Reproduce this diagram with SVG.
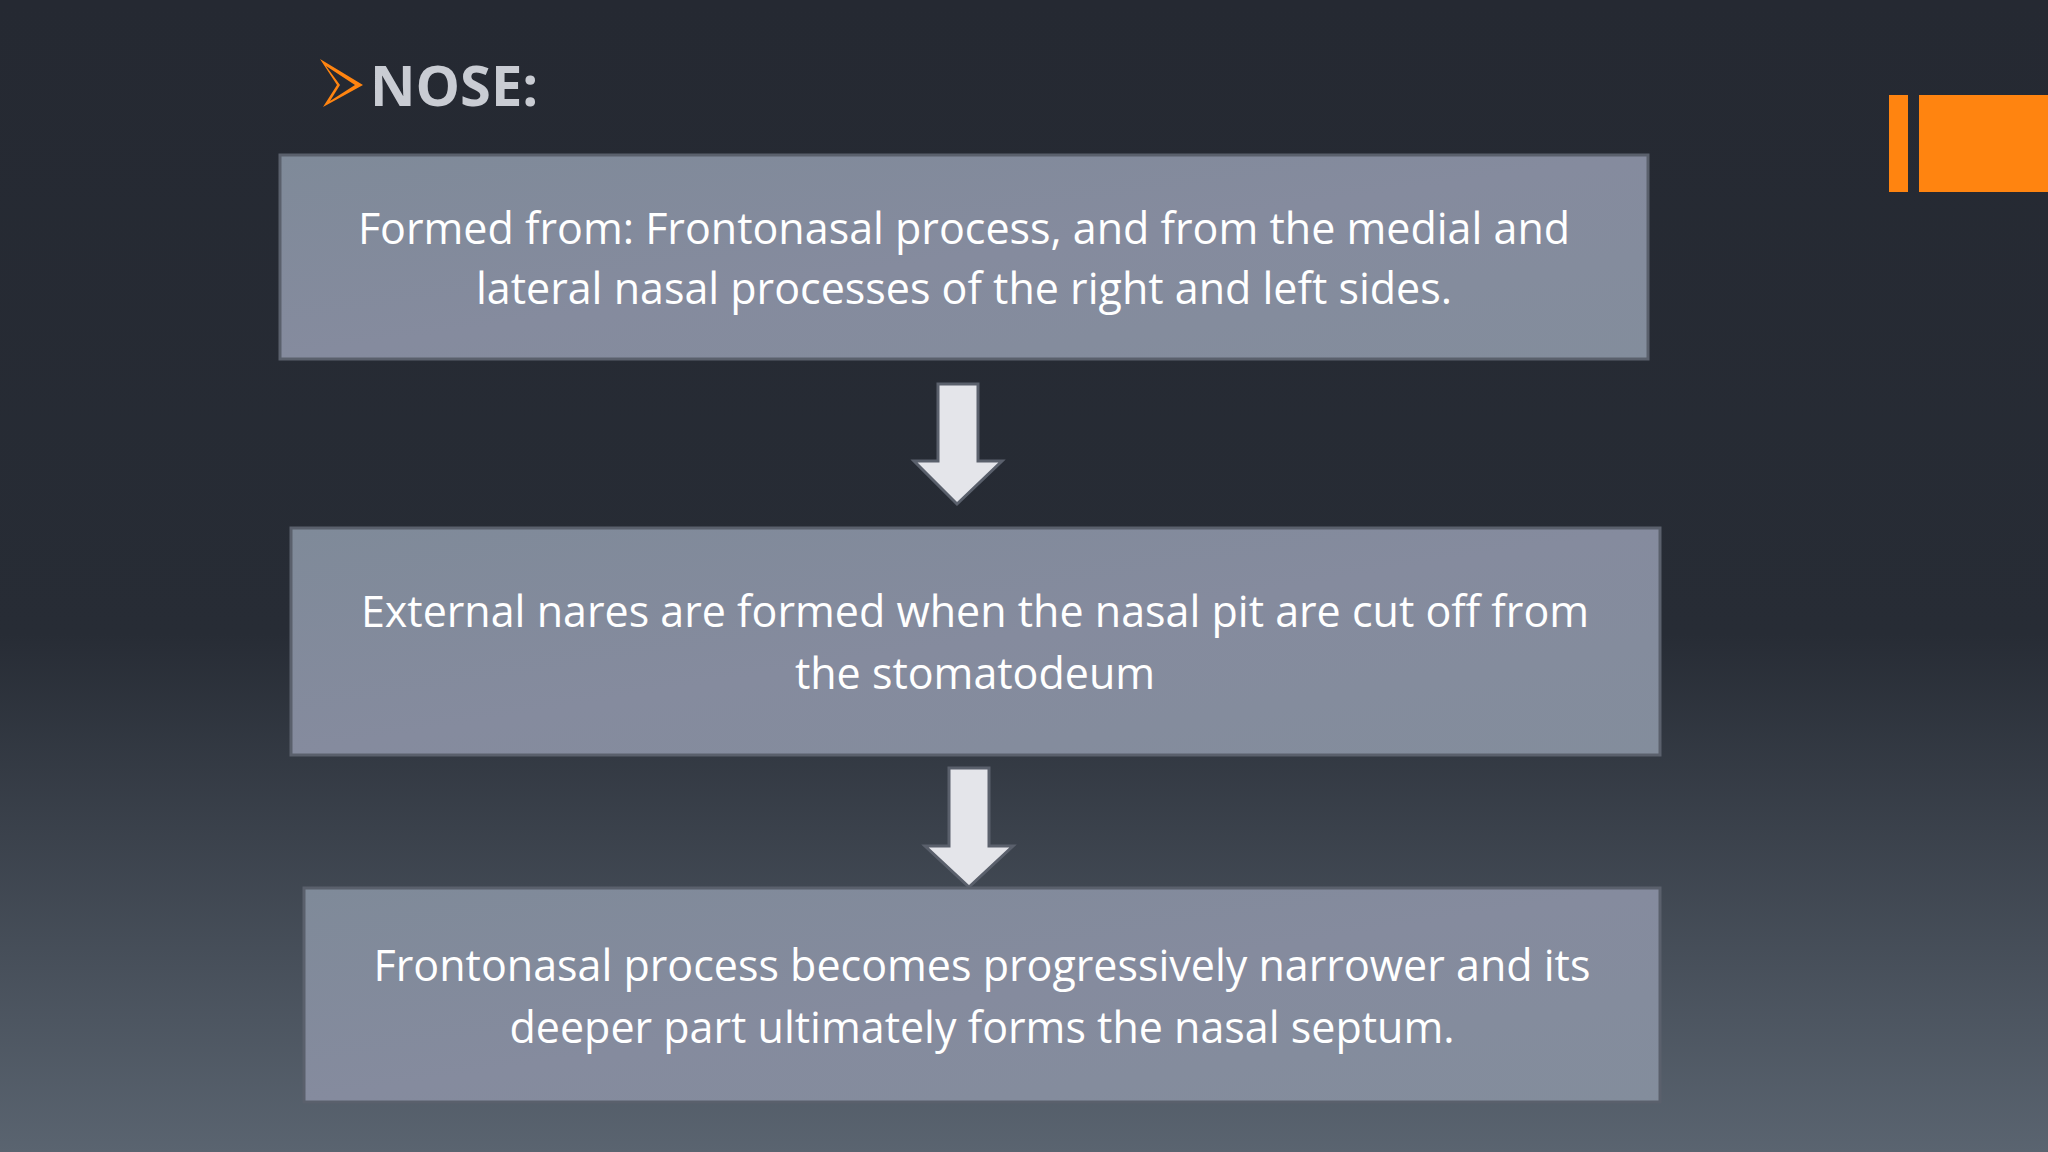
<svg xmlns="http://www.w3.org/2000/svg" width="2048" height="1152" viewBox="0 0 2048 1152">
<defs>
<linearGradient id="bg" x1="0" y1="0" x2="0" y2="1">
<stop offset="0" stop-color="#252932"/><stop offset="0.55" stop-color="#272c35"/><stop offset="1" stop-color="#5a6470"/>
</linearGradient>
<linearGradient id="bx" x1="0" y1="0" x2="1" y2="1">
<stop offset="0" stop-color="#7f8a99"/><stop offset="0.5" stop-color="#858b9e"/><stop offset="1" stop-color="#838d9c"/>
</linearGradient>
<style>
.box{fill:url(#bx);stroke:#5a606c;stroke-width:3}
.t{font-family:"Open Sans","Liberation Sans",sans-serif;font-size:43px;fill:#ffffff;text-anchor:middle}
.ar{fill:#e4e5ea;stroke:#5a606c;stroke-width:3}
</style>
</defs>
<rect width="2048" height="1152" fill="url(#bg)"/>
<rect x="1889" y="95" width="19" height="97" fill="#ff8410"/>
<rect x="1919" y="95" width="129" height="97" fill="#ff8410"/>
<g id="title">
<path d="M320 59 L363 85 L323 107 L337 85 Z" fill="#ff8410"/>
<path d="M326 66 L355 85 L330 101 L340 85 Z" fill="#252932"/>
<text x="370" y="106" font-family="Open Sans,Liberation Sans,sans-serif" font-size="56" font-weight="bold" fill="#c9ccd3">NOSE:</text>
</g>
<g id="connectors">
<path class="ar" d="M938 384 H978 V461 H1002 L957 504 L914 461 H938 Z"/>
<path class="ar" d="M949 768 H989 V846 H1013 L969 887 L925 846 H949 Z"/>
</g>
<g id="n1">
<rect class="box" x="280" y="155" width="1368" height="204"/>
<text class="t" x="964" y="244">Formed from: Frontonasal process, and from the medial and</text>
<text class="t" x="964" y="304">lateral nasal processes of the right and left sides.</text>
</g>
<g id="n2">
<rect class="box" x="291" y="528" width="1369" height="227"/>
<text class="t" x="975" y="627">External nares are formed when the nasal pit are cut off from</text>
<text class="t" x="975" y="689">the stomatodeum</text>
</g>
<g id="n3">
<rect class="box" x="304" y="888" width="1356" height="214"/>
<text class="t" x="982" y="981">Frontonasal process becomes progressively narrower and its</text>
<text class="t" x="982" y="1043">deeper part ultimately forms the nasal septum.</text>
</g>
</svg>
